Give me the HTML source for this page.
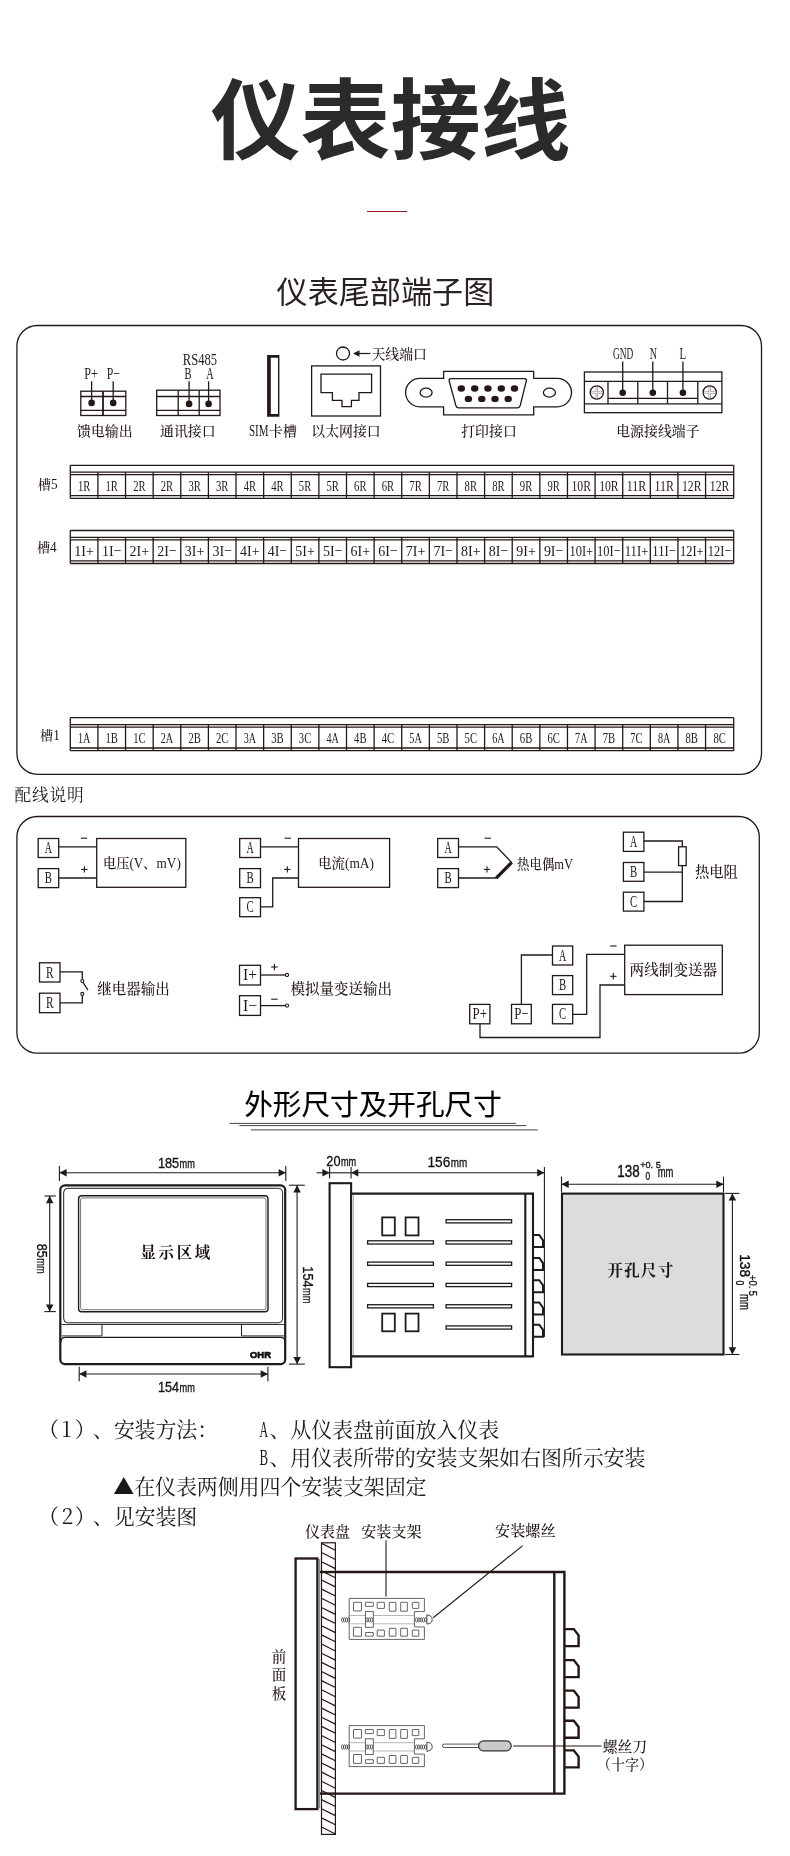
<!DOCTYPE html>
<html lang="zh-CN"><head><meta charset="utf-8"><title>仪表接线</title>
<style>
html,body{margin:0;padding:0;background:#fff}
body{width:790px;height:1856px;overflow:hidden;font-family:'Liberation Sans','Noto Sans CJK SC',sans-serif}
svg{display:block;will-change:transform;opacity:.999}
text{white-space:pre}
</style></head><body>
<svg width="790" height="1856" viewBox="0 0 790 1856">
<text x="390.5" y="0" font-family="'Noto Sans CJK SC','Liberation Sans',sans-serif" font-size="90" font-weight="700" text-anchor="middle" transform="translate(0 151.5) scale(1 0.977)" fill="#2b2b2b" >仪表接线</text>
<line x1="367" y1="211.5" x2="407" y2="211.5" stroke="#a3141c" stroke-width="1.1" />
<text x="385.4" y="303.2" font-family="'Noto Sans CJK SC','Liberation Sans',sans-serif" font-size="31.1" text-anchor="middle" fill="#2a2222" >仪表尾部端子图</text>
<rect x="16.9" y="325.5" width="744.6" height="448.8" rx="20.5" fill="none" stroke="#231815" stroke-width="1.3"/>
<rect x="80.8" y="391.2" width="45" height="24.3" fill="none" stroke="#231815" stroke-width="1.3"/>
<line x1="80.8" y1="396.5" x2="125.8" y2="396.5" stroke="#231815" stroke-width="1.3" />
<line x1="80.8" y1="410.4" x2="125.8" y2="410.4" stroke="#231815" stroke-width="1.3" />
<line x1="103" y1="391.2" x2="103" y2="415.5" stroke="#231815" stroke-width="1.8" />
<circle cx="91.6" cy="402.9" r="3.3" fill="#231815" stroke="none"/>
<line x1="91.6" y1="402.9" x2="91.6" y2="381.3" stroke="#231815" stroke-width="1.3" />
<circle cx="113.2" cy="402.9" r="3.3" fill="#231815" stroke="none"/>
<line x1="113.2" y1="402.9" x2="113.2" y2="381.3" stroke="#231815" stroke-width="1.3" />
<text x="84.3" y="378.8" font-family="'Liberation Serif','Noto Serif CJK SC',serif" font-size="16.3" font-weight="500" textLength="13.5" lengthAdjust="spacingAndGlyphs" fill="#231815" >P+</text>
<text x="106.8" y="378.8" font-family="'Liberation Serif','Noto Serif CJK SC',serif" font-size="16.3" font-weight="500" textLength="13.2" lengthAdjust="spacingAndGlyphs" fill="#231815" >P−</text>
<text x="104.8" y="436.1" font-family="'Noto Serif CJK SC','Liberation Serif',serif" font-size="13.9" font-weight="500" text-anchor="middle" fill="#231815" >馈电输出</text>
<rect x="156.7" y="390.2" width="63.3" height="25.3" fill="none" stroke="#231815" stroke-width="1.3"/>
<line x1="156.7" y1="396.5" x2="220" y2="396.5" stroke="#231815" stroke-width="1.3" />
<line x1="156.7" y1="410.4" x2="220" y2="410.4" stroke="#231815" stroke-width="1.3" />
<line x1="178.2" y1="390.2" x2="178.2" y2="415.5" stroke="#231815" stroke-width="1.3" />
<line x1="199.2" y1="390.2" x2="199.2" y2="415.5" stroke="#231815" stroke-width="1.3" />
<circle cx="189.1" cy="403.9" r="3.3" fill="#231815" stroke="none"/>
<line x1="189.1" y1="403.9" x2="189.1" y2="381.3" stroke="#231815" stroke-width="1.3" />
<circle cx="208.6" cy="403.9" r="3.3" fill="#231815" stroke="none"/>
<line x1="208.6" y1="403.9" x2="208.6" y2="381.3" stroke="#231815" stroke-width="1.3" />
<text x="182.8" y="365" font-family="'Liberation Serif','Noto Serif CJK SC',serif" font-size="16.8" font-weight="500" textLength="34.2" lengthAdjust="spacingAndGlyphs" fill="#231815" >RS485</text>
<text x="184.5" y="378.9" font-family="'Liberation Serif','Noto Serif CJK SC',serif" font-size="16.3" font-weight="500" textLength="7" lengthAdjust="spacingAndGlyphs" fill="#231815" >B</text>
<text x="206.3" y="378.9" font-family="'Liberation Serif','Noto Serif CJK SC',serif" font-size="16.3" font-weight="500" textLength="7.4" lengthAdjust="spacingAndGlyphs" fill="#231815" >A</text>
<text x="187.8" y="436.1" font-family="'Noto Serif CJK SC','Liberation Serif',serif" font-size="13.9" font-weight="500" text-anchor="middle" fill="#231815" >通讯接口</text>
<rect x="268.3" y="356.3" width="10.5" height="59.4" fill="none" stroke="#231815" stroke-width="0.01"/>
<path d="M267.1 355.1 H279.4 V416.7 H267.1 Z M270.8 357.8 V414.1 H278 V357.8 Z" fill="#231815" stroke="none" fill-rule="evenodd"/>
<text x="248.9" y="436.1" font-family="'Liberation Serif','Noto Serif CJK SC',serif" font-size="16.3" font-weight="500" textLength="19.6" lengthAdjust="spacingAndGlyphs" fill="#231815" >SIM</text>
<text x="269" y="436.1" font-family="'Noto Serif CJK SC','Liberation Serif',serif" font-size="13.9" font-weight="500" fill="#231815" >卡槽</text>
<rect x="311.6" y="365.9" width="68.9" height="50.1" fill="none" stroke="#231815" stroke-width="1.3"/>
<path d="M321 374.2 L371.6 374.2 L371.6 392.7 L359 392.7 L359 400.3 L351.4 400.3 L351.4 406.6 L342 406.6 L342 400.3 L332.4 400.3 L332.4 392.7 L321 392.7 Z" fill="none" stroke="#231815" stroke-width="1.3" />
<text x="346" y="436.1" font-family="'Noto Serif CJK SC','Liberation Serif',serif" font-size="13.9" font-weight="500" text-anchor="middle" fill="#231815" >以太网接口</text>
<circle cx="343" cy="353.5" r="6.5" fill="none" stroke="#231815" stroke-width="1.3"/>
<line x1="356" y1="353.5" x2="370.4" y2="353.5" stroke="#231815" stroke-width="1.2" />
<path d="M353 353.5 L359.5 350.2 L359.5 356.8 Z" fill="#231815" stroke="none" />
<text x="371.4" y="359" font-family="'Noto Serif CJK SC','Liberation Serif',serif" font-size="13.9" font-weight="500" fill="#231815" >天线端口</text>
<path d="M443.6 378.4 H419.8 A14.2 14.2 0 0 0 419.8 406.8 H443.6 V414.9 H533.7 V406.8 H557.3 A14.2 14.2 0 0 0 557.3 378.4 H533.7 V371.3 H443.6 Z" fill="none" stroke="#231815" stroke-width="1.3" />
<path d="M451 378.7 H524.4 Q526.9 378.7 526.3 381 L520.2 405.6 Q519.6 407.8 517.3 407.8 H458.7 Q456.4 407.8 455.9 405.6 L449.2 381 Q448.6 378.7 451 378.7 Z" fill="none" stroke="#231815" stroke-width="1.3" />
<ellipse cx="461.3" cy="388.5" rx="3.7" ry="3.2" fill="#231815" stroke="none"/>
<ellipse cx="474.7" cy="388.5" rx="3.7" ry="3.2" fill="#231815" stroke="none"/>
<ellipse cx="487.9" cy="388.5" rx="3.7" ry="3.2" fill="#231815" stroke="none"/>
<ellipse cx="501.3" cy="388.5" rx="3.7" ry="3.2" fill="#231815" stroke="none"/>
<ellipse cx="514.5" cy="388.5" rx="3.7" ry="3.2" fill="#231815" stroke="none"/>
<ellipse cx="468.4" cy="398.9" rx="3.7" ry="3.2" fill="#231815" stroke="none"/>
<ellipse cx="481.8" cy="398.9" rx="3.7" ry="3.2" fill="#231815" stroke="none"/>
<ellipse cx="495" cy="398.9" rx="3.7" ry="3.2" fill="#231815" stroke="none"/>
<ellipse cx="508.2" cy="398.9" rx="3.7" ry="3.2" fill="#231815" stroke="none"/>
<ellipse cx="426.1" cy="392.6" rx="6" ry="4.5" fill="none" stroke="#231815" stroke-width="1.3"/>
<ellipse cx="549.4" cy="392.6" rx="6" ry="4.5" fill="none" stroke="#231815" stroke-width="1.3"/>
<text x="489" y="436.1" font-family="'Noto Serif CJK SC','Liberation Serif',serif" font-size="13.9" font-weight="500" text-anchor="middle" fill="#231815" >打印接口</text>
<rect x="584.4" y="372" width="137.5" height="40.7" fill="none" stroke="#231815" stroke-width="1.3"/>
<line x1="584.4" y1="381.3" x2="721.9" y2="381.3" stroke="#231815" stroke-width="1.3" />
<line x1="584.4" y1="403.9" x2="721.9" y2="403.9" stroke="#231815" stroke-width="1.3" />
<line x1="608" y1="398.3" x2="697.8" y2="398.3" stroke="#231815" stroke-width="1.3" />
<line x1="608" y1="381.3" x2="608" y2="403.9" stroke="#231815" stroke-width="1.3" />
<line x1="637.8" y1="381.3" x2="637.8" y2="403.9" stroke="#231815" stroke-width="1.3" />
<line x1="667.5" y1="381.3" x2="667.5" y2="403.9" stroke="#231815" stroke-width="1.3" />
<line x1="697.8" y1="381.3" x2="697.8" y2="403.9" stroke="#231815" stroke-width="1.3" />
<circle cx="596.8" cy="392.5" r="6.6" fill="none" stroke="#231815" stroke-width="1.3"/>
<line x1="591.3" y1="392.5" x2="602.3" y2="392.5" stroke="#9a9492" stroke-width="2.2" />
<line x1="596.8" y1="387" x2="596.8" y2="398" stroke="#9a9492" stroke-width="2.2" />
<line x1="591.3" y1="392.5" x2="602.3" y2="392.5" stroke="#fff" stroke-width="0.8" />
<line x1="596.8" y1="387" x2="596.8" y2="398" stroke="#fff" stroke-width="0.8" />
<circle cx="709.7" cy="392.5" r="6.6" fill="none" stroke="#231815" stroke-width="1.3"/>
<line x1="704.2" y1="392.5" x2="715.2" y2="392.5" stroke="#9a9492" stroke-width="2.2" />
<line x1="709.7" y1="387" x2="709.7" y2="398" stroke="#9a9492" stroke-width="2.2" />
<line x1="704.2" y1="392.5" x2="715.2" y2="392.5" stroke="#fff" stroke-width="0.8" />
<line x1="709.7" y1="387" x2="709.7" y2="398" stroke="#fff" stroke-width="0.8" />
<circle cx="622.7" cy="392.7" r="3.3" fill="#231815" stroke="none"/>
<line x1="622.7" y1="392.7" x2="622.7" y2="361.6" stroke="#231815" stroke-width="1.3" />
<circle cx="652.8" cy="392.7" r="3.3" fill="#231815" stroke="none"/>
<line x1="652.8" y1="392.7" x2="652.8" y2="361.6" stroke="#231815" stroke-width="1.3" />
<circle cx="682.9" cy="392.7" r="3.3" fill="#231815" stroke="none"/>
<line x1="682.9" y1="392.7" x2="682.9" y2="361.6" stroke="#231815" stroke-width="1.3" />
<text x="613" y="359.3" font-family="'Liberation Serif','Noto Serif CJK SC',serif" font-size="16.3" font-weight="500" textLength="20.3" lengthAdjust="spacingAndGlyphs" fill="#231815" >GND</text>
<text x="649.7" y="359.3" font-family="'Liberation Serif','Noto Serif CJK SC',serif" font-size="16.3" font-weight="500" textLength="7.2" lengthAdjust="spacingAndGlyphs" fill="#231815" >N</text>
<text x="679.4" y="359.3" font-family="'Liberation Serif','Noto Serif CJK SC',serif" font-size="16.3" font-weight="500" textLength="6.6" lengthAdjust="spacingAndGlyphs" fill="#231815" >L</text>
<text x="657.9" y="436.1" font-family="'Noto Serif CJK SC','Liberation Serif',serif" font-size="13.9" font-weight="500" text-anchor="middle" fill="#231815" >电源接线端子</text>
<line x1="70.3" y1="465.3" x2="733.7" y2="465.3" stroke="#231815" stroke-width="1.3" />
<line x1="70.3" y1="472.2" x2="733.7" y2="472.2" stroke="#231815" stroke-width="1.3" />
<line x1="70.3" y1="474.7" x2="733.7" y2="474.7" stroke="#231815" stroke-width="1.3" />
<line x1="70.3" y1="495.6" x2="733.7" y2="495.6" stroke="#231815" stroke-width="1.3" />
<line x1="70.3" y1="498.3" x2="733.7" y2="498.3" stroke="#231815" stroke-width="1.3" />
<line x1="70.3" y1="465.3" x2="70.3" y2="498.3" stroke="#231815" stroke-width="1.3" />
<line x1="733.7" y1="465.3" x2="733.7" y2="498.3" stroke="#231815" stroke-width="1.3" />
<line x1="97.92" y1="472.2" x2="97.92" y2="498.3" stroke="#231815" stroke-width="1.3" />
<line x1="125.54" y1="472.2" x2="125.54" y2="498.3" stroke="#231815" stroke-width="1.3" />
<line x1="153.16" y1="472.2" x2="153.16" y2="498.3" stroke="#231815" stroke-width="1.3" />
<line x1="180.78" y1="472.2" x2="180.78" y2="498.3" stroke="#231815" stroke-width="1.3" />
<line x1="208.4" y1="472.2" x2="208.4" y2="498.3" stroke="#231815" stroke-width="1.3" />
<line x1="236.02" y1="472.2" x2="236.02" y2="498.3" stroke="#231815" stroke-width="1.3" />
<line x1="263.64" y1="472.2" x2="263.64" y2="498.3" stroke="#231815" stroke-width="1.3" />
<line x1="291.26" y1="472.2" x2="291.26" y2="498.3" stroke="#231815" stroke-width="1.3" />
<line x1="318.88" y1="472.2" x2="318.88" y2="498.3" stroke="#231815" stroke-width="1.3" />
<line x1="346.5" y1="472.2" x2="346.5" y2="498.3" stroke="#231815" stroke-width="1.3" />
<line x1="374.12" y1="472.2" x2="374.12" y2="498.3" stroke="#231815" stroke-width="1.3" />
<line x1="401.74" y1="472.2" x2="401.74" y2="498.3" stroke="#231815" stroke-width="1.3" />
<line x1="429.36" y1="472.2" x2="429.36" y2="498.3" stroke="#231815" stroke-width="1.3" />
<line x1="456.98" y1="472.2" x2="456.98" y2="498.3" stroke="#231815" stroke-width="1.3" />
<line x1="484.6" y1="472.2" x2="484.6" y2="498.3" stroke="#231815" stroke-width="1.3" />
<line x1="512.22" y1="472.2" x2="512.22" y2="498.3" stroke="#231815" stroke-width="1.3" />
<line x1="539.84" y1="472.2" x2="539.84" y2="498.3" stroke="#231815" stroke-width="1.3" />
<line x1="567.46" y1="472.2" x2="567.46" y2="498.3" stroke="#231815" stroke-width="1.3" />
<line x1="595.08" y1="472.2" x2="595.08" y2="498.3" stroke="#231815" stroke-width="1.3" />
<line x1="622.7" y1="472.2" x2="622.7" y2="498.3" stroke="#231815" stroke-width="1.3" />
<line x1="650.32" y1="472.2" x2="650.32" y2="498.3" stroke="#231815" stroke-width="1.3" />
<line x1="677.94" y1="472.2" x2="677.94" y2="498.3" stroke="#231815" stroke-width="1.3" />
<line x1="705.56" y1="472.2" x2="705.56" y2="498.3" stroke="#231815" stroke-width="1.3" />
<text x="77.91" y="490.9" font-family="'Liberation Serif','Noto Serif CJK SC',serif" font-size="15.6" font-weight="500" textLength="12.4" lengthAdjust="spacingAndGlyphs" fill="#231815" >1R</text>
<text x="105.53" y="490.9" font-family="'Liberation Serif','Noto Serif CJK SC',serif" font-size="15.6" font-weight="500" textLength="12.4" lengthAdjust="spacingAndGlyphs" fill="#231815" >1R</text>
<text x="133.15" y="490.9" font-family="'Liberation Serif','Noto Serif CJK SC',serif" font-size="15.6" font-weight="500" textLength="12.4" lengthAdjust="spacingAndGlyphs" fill="#231815" >2R</text>
<text x="160.77" y="490.9" font-family="'Liberation Serif','Noto Serif CJK SC',serif" font-size="15.6" font-weight="500" textLength="12.4" lengthAdjust="spacingAndGlyphs" fill="#231815" >2R</text>
<text x="188.39" y="490.9" font-family="'Liberation Serif','Noto Serif CJK SC',serif" font-size="15.6" font-weight="500" textLength="12.4" lengthAdjust="spacingAndGlyphs" fill="#231815" >3R</text>
<text x="216.01" y="490.9" font-family="'Liberation Serif','Noto Serif CJK SC',serif" font-size="15.6" font-weight="500" textLength="12.4" lengthAdjust="spacingAndGlyphs" fill="#231815" >3R</text>
<text x="243.63" y="490.9" font-family="'Liberation Serif','Noto Serif CJK SC',serif" font-size="15.6" font-weight="500" textLength="12.4" lengthAdjust="spacingAndGlyphs" fill="#231815" >4R</text>
<text x="271.25" y="490.9" font-family="'Liberation Serif','Noto Serif CJK SC',serif" font-size="15.6" font-weight="500" textLength="12.4" lengthAdjust="spacingAndGlyphs" fill="#231815" >4R</text>
<text x="298.87" y="490.9" font-family="'Liberation Serif','Noto Serif CJK SC',serif" font-size="15.6" font-weight="500" textLength="12.4" lengthAdjust="spacingAndGlyphs" fill="#231815" >5R</text>
<text x="326.49" y="490.9" font-family="'Liberation Serif','Noto Serif CJK SC',serif" font-size="15.6" font-weight="500" textLength="12.4" lengthAdjust="spacingAndGlyphs" fill="#231815" >5R</text>
<text x="354.11" y="490.9" font-family="'Liberation Serif','Noto Serif CJK SC',serif" font-size="15.6" font-weight="500" textLength="12.4" lengthAdjust="spacingAndGlyphs" fill="#231815" >6R</text>
<text x="381.73" y="490.9" font-family="'Liberation Serif','Noto Serif CJK SC',serif" font-size="15.6" font-weight="500" textLength="12.4" lengthAdjust="spacingAndGlyphs" fill="#231815" >6R</text>
<text x="409.35" y="490.9" font-family="'Liberation Serif','Noto Serif CJK SC',serif" font-size="15.6" font-weight="500" textLength="12.4" lengthAdjust="spacingAndGlyphs" fill="#231815" >7R</text>
<text x="436.97" y="490.9" font-family="'Liberation Serif','Noto Serif CJK SC',serif" font-size="15.6" font-weight="500" textLength="12.4" lengthAdjust="spacingAndGlyphs" fill="#231815" >7R</text>
<text x="464.59" y="490.9" font-family="'Liberation Serif','Noto Serif CJK SC',serif" font-size="15.6" font-weight="500" textLength="12.4" lengthAdjust="spacingAndGlyphs" fill="#231815" >8R</text>
<text x="492.21" y="490.9" font-family="'Liberation Serif','Noto Serif CJK SC',serif" font-size="15.6" font-weight="500" textLength="12.4" lengthAdjust="spacingAndGlyphs" fill="#231815" >8R</text>
<text x="519.83" y="490.9" font-family="'Liberation Serif','Noto Serif CJK SC',serif" font-size="15.6" font-weight="500" textLength="12.4" lengthAdjust="spacingAndGlyphs" fill="#231815" >9R</text>
<text x="547.45" y="490.9" font-family="'Liberation Serif','Noto Serif CJK SC',serif" font-size="15.6" font-weight="500" textLength="12.4" lengthAdjust="spacingAndGlyphs" fill="#231815" >9R</text>
<text x="571.52" y="490.9" font-family="'Liberation Serif','Noto Serif CJK SC',serif" font-size="15.6" font-weight="500" textLength="19.5" lengthAdjust="spacingAndGlyphs" fill="#231815" >10R</text>
<text x="599.14" y="490.9" font-family="'Liberation Serif','Noto Serif CJK SC',serif" font-size="15.6" font-weight="500" textLength="19.5" lengthAdjust="spacingAndGlyphs" fill="#231815" >10R</text>
<text x="626.76" y="490.9" font-family="'Liberation Serif','Noto Serif CJK SC',serif" font-size="15.6" font-weight="500" textLength="19.5" lengthAdjust="spacingAndGlyphs" fill="#231815" >11R</text>
<text x="654.38" y="490.9" font-family="'Liberation Serif','Noto Serif CJK SC',serif" font-size="15.6" font-weight="500" textLength="19.5" lengthAdjust="spacingAndGlyphs" fill="#231815" >11R</text>
<text x="682" y="490.9" font-family="'Liberation Serif','Noto Serif CJK SC',serif" font-size="15.6" font-weight="500" textLength="19.5" lengthAdjust="spacingAndGlyphs" fill="#231815" >12R</text>
<text x="709.87" y="490.9" font-family="'Liberation Serif','Noto Serif CJK SC',serif" font-size="15.6" font-weight="500" textLength="19.5" lengthAdjust="spacingAndGlyphs" fill="#231815" >12R</text>
<text x="38" y="488.8" font-family="'Noto Serif CJK SC','Liberation Serif',serif" font-size="12.8" font-weight="500" fill="#231815" >槽</text>
<text x="50.9" y="489" font-family="'Liberation Serif','Noto Serif CJK SC',serif" font-size="15" font-weight="500" textLength="6.6" lengthAdjust="spacingAndGlyphs" fill="#231815" >5</text>
<line x1="70.3" y1="530.5" x2="733.7" y2="530.5" stroke="#231815" stroke-width="1.3" />
<line x1="70.3" y1="537.4" x2="733.7" y2="537.4" stroke="#231815" stroke-width="1.3" />
<line x1="70.3" y1="539.9" x2="733.7" y2="539.9" stroke="#231815" stroke-width="1.3" />
<line x1="70.3" y1="560.8" x2="733.7" y2="560.8" stroke="#231815" stroke-width="1.3" />
<line x1="70.3" y1="563.5" x2="733.7" y2="563.5" stroke="#231815" stroke-width="1.3" />
<line x1="70.3" y1="530.5" x2="70.3" y2="563.5" stroke="#231815" stroke-width="1.3" />
<line x1="733.7" y1="530.5" x2="733.7" y2="563.5" stroke="#231815" stroke-width="1.3" />
<line x1="97.92" y1="537.4" x2="97.92" y2="563.5" stroke="#231815" stroke-width="1.3" />
<line x1="125.54" y1="537.4" x2="125.54" y2="563.5" stroke="#231815" stroke-width="1.3" />
<line x1="153.16" y1="537.4" x2="153.16" y2="563.5" stroke="#231815" stroke-width="1.3" />
<line x1="180.78" y1="537.4" x2="180.78" y2="563.5" stroke="#231815" stroke-width="1.3" />
<line x1="208.4" y1="537.4" x2="208.4" y2="563.5" stroke="#231815" stroke-width="1.3" />
<line x1="236.02" y1="537.4" x2="236.02" y2="563.5" stroke="#231815" stroke-width="1.3" />
<line x1="263.64" y1="537.4" x2="263.64" y2="563.5" stroke="#231815" stroke-width="1.3" />
<line x1="291.26" y1="537.4" x2="291.26" y2="563.5" stroke="#231815" stroke-width="1.3" />
<line x1="318.88" y1="537.4" x2="318.88" y2="563.5" stroke="#231815" stroke-width="1.3" />
<line x1="346.5" y1="537.4" x2="346.5" y2="563.5" stroke="#231815" stroke-width="1.3" />
<line x1="374.12" y1="537.4" x2="374.12" y2="563.5" stroke="#231815" stroke-width="1.3" />
<line x1="401.74" y1="537.4" x2="401.74" y2="563.5" stroke="#231815" stroke-width="1.3" />
<line x1="429.36" y1="537.4" x2="429.36" y2="563.5" stroke="#231815" stroke-width="1.3" />
<line x1="456.98" y1="537.4" x2="456.98" y2="563.5" stroke="#231815" stroke-width="1.3" />
<line x1="484.6" y1="537.4" x2="484.6" y2="563.5" stroke="#231815" stroke-width="1.3" />
<line x1="512.22" y1="537.4" x2="512.22" y2="563.5" stroke="#231815" stroke-width="1.3" />
<line x1="539.84" y1="537.4" x2="539.84" y2="563.5" stroke="#231815" stroke-width="1.3" />
<line x1="567.46" y1="537.4" x2="567.46" y2="563.5" stroke="#231815" stroke-width="1.3" />
<line x1="595.08" y1="537.4" x2="595.08" y2="563.5" stroke="#231815" stroke-width="1.3" />
<line x1="622.7" y1="537.4" x2="622.7" y2="563.5" stroke="#231815" stroke-width="1.3" />
<line x1="650.32" y1="537.4" x2="650.32" y2="563.5" stroke="#231815" stroke-width="1.3" />
<line x1="677.94" y1="537.4" x2="677.94" y2="563.5" stroke="#231815" stroke-width="1.3" />
<line x1="705.56" y1="537.4" x2="705.56" y2="563.5" stroke="#231815" stroke-width="1.3" />
<text x="74.36" y="556.1" font-family="'Liberation Serif','Noto Serif CJK SC',serif" font-size="15.6" font-weight="500" textLength="19.5" lengthAdjust="spacingAndGlyphs" fill="#231815" >1I+</text>
<text x="101.98" y="556.1" font-family="'Liberation Serif','Noto Serif CJK SC',serif" font-size="15.6" font-weight="500" textLength="19.5" lengthAdjust="spacingAndGlyphs" fill="#231815" >1I−</text>
<text x="129.6" y="556.1" font-family="'Liberation Serif','Noto Serif CJK SC',serif" font-size="15.6" font-weight="500" textLength="19.5" lengthAdjust="spacingAndGlyphs" fill="#231815" >2I+</text>
<text x="157.22" y="556.1" font-family="'Liberation Serif','Noto Serif CJK SC',serif" font-size="15.6" font-weight="500" textLength="19.5" lengthAdjust="spacingAndGlyphs" fill="#231815" >2I−</text>
<text x="184.84" y="556.1" font-family="'Liberation Serif','Noto Serif CJK SC',serif" font-size="15.6" font-weight="500" textLength="19.5" lengthAdjust="spacingAndGlyphs" fill="#231815" >3I+</text>
<text x="212.46" y="556.1" font-family="'Liberation Serif','Noto Serif CJK SC',serif" font-size="15.6" font-weight="500" textLength="19.5" lengthAdjust="spacingAndGlyphs" fill="#231815" >3I−</text>
<text x="240.08" y="556.1" font-family="'Liberation Serif','Noto Serif CJK SC',serif" font-size="15.6" font-weight="500" textLength="19.5" lengthAdjust="spacingAndGlyphs" fill="#231815" >4I+</text>
<text x="267.7" y="556.1" font-family="'Liberation Serif','Noto Serif CJK SC',serif" font-size="15.6" font-weight="500" textLength="19.5" lengthAdjust="spacingAndGlyphs" fill="#231815" >4I−</text>
<text x="295.32" y="556.1" font-family="'Liberation Serif','Noto Serif CJK SC',serif" font-size="15.6" font-weight="500" textLength="19.5" lengthAdjust="spacingAndGlyphs" fill="#231815" >5I+</text>
<text x="322.94" y="556.1" font-family="'Liberation Serif','Noto Serif CJK SC',serif" font-size="15.6" font-weight="500" textLength="19.5" lengthAdjust="spacingAndGlyphs" fill="#231815" >5I−</text>
<text x="350.56" y="556.1" font-family="'Liberation Serif','Noto Serif CJK SC',serif" font-size="15.6" font-weight="500" textLength="19.5" lengthAdjust="spacingAndGlyphs" fill="#231815" >6I+</text>
<text x="378.18" y="556.1" font-family="'Liberation Serif','Noto Serif CJK SC',serif" font-size="15.6" font-weight="500" textLength="19.5" lengthAdjust="spacingAndGlyphs" fill="#231815" >6I−</text>
<text x="405.8" y="556.1" font-family="'Liberation Serif','Noto Serif CJK SC',serif" font-size="15.6" font-weight="500" textLength="19.5" lengthAdjust="spacingAndGlyphs" fill="#231815" >7I+</text>
<text x="433.42" y="556.1" font-family="'Liberation Serif','Noto Serif CJK SC',serif" font-size="15.6" font-weight="500" textLength="19.5" lengthAdjust="spacingAndGlyphs" fill="#231815" >7I−</text>
<text x="461.04" y="556.1" font-family="'Liberation Serif','Noto Serif CJK SC',serif" font-size="15.6" font-weight="500" textLength="19.5" lengthAdjust="spacingAndGlyphs" fill="#231815" >8I+</text>
<text x="488.66" y="556.1" font-family="'Liberation Serif','Noto Serif CJK SC',serif" font-size="15.6" font-weight="500" textLength="19.5" lengthAdjust="spacingAndGlyphs" fill="#231815" >8I−</text>
<text x="516.28" y="556.1" font-family="'Liberation Serif','Noto Serif CJK SC',serif" font-size="15.6" font-weight="500" textLength="19.5" lengthAdjust="spacingAndGlyphs" fill="#231815" >9I+</text>
<text x="543.9" y="556.1" font-family="'Liberation Serif','Noto Serif CJK SC',serif" font-size="15.6" font-weight="500" textLength="19.5" lengthAdjust="spacingAndGlyphs" fill="#231815" >9I−</text>
<text x="569.47" y="556.1" font-family="'Liberation Serif','Noto Serif CJK SC',serif" font-size="15.6" font-weight="500" textLength="23.6" lengthAdjust="spacingAndGlyphs" fill="#231815" >10I+</text>
<text x="597.09" y="556.1" font-family="'Liberation Serif','Noto Serif CJK SC',serif" font-size="15.6" font-weight="500" textLength="23.6" lengthAdjust="spacingAndGlyphs" fill="#231815" >10I−</text>
<text x="624.71" y="556.1" font-family="'Liberation Serif','Noto Serif CJK SC',serif" font-size="15.6" font-weight="500" textLength="23.6" lengthAdjust="spacingAndGlyphs" fill="#231815" >11I+</text>
<text x="652.33" y="556.1" font-family="'Liberation Serif','Noto Serif CJK SC',serif" font-size="15.6" font-weight="500" textLength="23.6" lengthAdjust="spacingAndGlyphs" fill="#231815" >11I−</text>
<text x="679.95" y="556.1" font-family="'Liberation Serif','Noto Serif CJK SC',serif" font-size="15.6" font-weight="500" textLength="23.6" lengthAdjust="spacingAndGlyphs" fill="#231815" >12I+</text>
<text x="707.82" y="556.1" font-family="'Liberation Serif','Noto Serif CJK SC',serif" font-size="15.6" font-weight="500" textLength="23.6" lengthAdjust="spacingAndGlyphs" fill="#231815" >12I−</text>
<text x="37.2" y="551.9" font-family="'Noto Serif CJK SC','Liberation Serif',serif" font-size="12.8" font-weight="500" fill="#231815" >槽</text>
<text x="50.1" y="552.1" font-family="'Liberation Serif','Noto Serif CJK SC',serif" font-size="15" font-weight="500" textLength="6.6" lengthAdjust="spacingAndGlyphs" fill="#231815" >4</text>
<line x1="70.3" y1="717.7" x2="733.7" y2="717.7" stroke="#231815" stroke-width="1.3" />
<line x1="70.3" y1="724.6" x2="733.7" y2="724.6" stroke="#231815" stroke-width="1.3" />
<line x1="70.3" y1="727.1" x2="733.7" y2="727.1" stroke="#231815" stroke-width="1.3" />
<line x1="70.3" y1="748" x2="733.7" y2="748" stroke="#231815" stroke-width="1.3" />
<line x1="70.3" y1="750.7" x2="733.7" y2="750.7" stroke="#231815" stroke-width="1.3" />
<line x1="70.3" y1="717.7" x2="70.3" y2="750.7" stroke="#231815" stroke-width="1.3" />
<line x1="733.7" y1="717.7" x2="733.7" y2="750.7" stroke="#231815" stroke-width="1.3" />
<line x1="97.92" y1="724.6" x2="97.92" y2="750.7" stroke="#231815" stroke-width="1.3" />
<line x1="125.54" y1="724.6" x2="125.54" y2="750.7" stroke="#231815" stroke-width="1.3" />
<line x1="153.16" y1="724.6" x2="153.16" y2="750.7" stroke="#231815" stroke-width="1.3" />
<line x1="180.78" y1="724.6" x2="180.78" y2="750.7" stroke="#231815" stroke-width="1.3" />
<line x1="208.4" y1="724.6" x2="208.4" y2="750.7" stroke="#231815" stroke-width="1.3" />
<line x1="236.02" y1="724.6" x2="236.02" y2="750.7" stroke="#231815" stroke-width="1.3" />
<line x1="263.64" y1="724.6" x2="263.64" y2="750.7" stroke="#231815" stroke-width="1.3" />
<line x1="291.26" y1="724.6" x2="291.26" y2="750.7" stroke="#231815" stroke-width="1.3" />
<line x1="318.88" y1="724.6" x2="318.88" y2="750.7" stroke="#231815" stroke-width="1.3" />
<line x1="346.5" y1="724.6" x2="346.5" y2="750.7" stroke="#231815" stroke-width="1.3" />
<line x1="374.12" y1="724.6" x2="374.12" y2="750.7" stroke="#231815" stroke-width="1.3" />
<line x1="401.74" y1="724.6" x2="401.74" y2="750.7" stroke="#231815" stroke-width="1.3" />
<line x1="429.36" y1="724.6" x2="429.36" y2="750.7" stroke="#231815" stroke-width="1.3" />
<line x1="456.98" y1="724.6" x2="456.98" y2="750.7" stroke="#231815" stroke-width="1.3" />
<line x1="484.6" y1="724.6" x2="484.6" y2="750.7" stroke="#231815" stroke-width="1.3" />
<line x1="512.22" y1="724.6" x2="512.22" y2="750.7" stroke="#231815" stroke-width="1.3" />
<line x1="539.84" y1="724.6" x2="539.84" y2="750.7" stroke="#231815" stroke-width="1.3" />
<line x1="567.46" y1="724.6" x2="567.46" y2="750.7" stroke="#231815" stroke-width="1.3" />
<line x1="595.08" y1="724.6" x2="595.08" y2="750.7" stroke="#231815" stroke-width="1.3" />
<line x1="622.7" y1="724.6" x2="622.7" y2="750.7" stroke="#231815" stroke-width="1.3" />
<line x1="650.32" y1="724.6" x2="650.32" y2="750.7" stroke="#231815" stroke-width="1.3" />
<line x1="677.94" y1="724.6" x2="677.94" y2="750.7" stroke="#231815" stroke-width="1.3" />
<line x1="705.56" y1="724.6" x2="705.56" y2="750.7" stroke="#231815" stroke-width="1.3" />
<text x="77.91" y="743.3" font-family="'Liberation Serif','Noto Serif CJK SC',serif" font-size="15.6" font-weight="500" textLength="12.4" lengthAdjust="spacingAndGlyphs" fill="#231815" >1A</text>
<text x="105.53" y="743.3" font-family="'Liberation Serif','Noto Serif CJK SC',serif" font-size="15.6" font-weight="500" textLength="12.4" lengthAdjust="spacingAndGlyphs" fill="#231815" >1B</text>
<text x="133.15" y="743.3" font-family="'Liberation Serif','Noto Serif CJK SC',serif" font-size="15.6" font-weight="500" textLength="12.4" lengthAdjust="spacingAndGlyphs" fill="#231815" >1C</text>
<text x="160.77" y="743.3" font-family="'Liberation Serif','Noto Serif CJK SC',serif" font-size="15.6" font-weight="500" textLength="12.4" lengthAdjust="spacingAndGlyphs" fill="#231815" >2A</text>
<text x="188.39" y="743.3" font-family="'Liberation Serif','Noto Serif CJK SC',serif" font-size="15.6" font-weight="500" textLength="12.4" lengthAdjust="spacingAndGlyphs" fill="#231815" >2B</text>
<text x="216.01" y="743.3" font-family="'Liberation Serif','Noto Serif CJK SC',serif" font-size="15.6" font-weight="500" textLength="12.4" lengthAdjust="spacingAndGlyphs" fill="#231815" >2C</text>
<text x="243.63" y="743.3" font-family="'Liberation Serif','Noto Serif CJK SC',serif" font-size="15.6" font-weight="500" textLength="12.4" lengthAdjust="spacingAndGlyphs" fill="#231815" >3A</text>
<text x="271.25" y="743.3" font-family="'Liberation Serif','Noto Serif CJK SC',serif" font-size="15.6" font-weight="500" textLength="12.4" lengthAdjust="spacingAndGlyphs" fill="#231815" >3B</text>
<text x="298.87" y="743.3" font-family="'Liberation Serif','Noto Serif CJK SC',serif" font-size="15.6" font-weight="500" textLength="12.4" lengthAdjust="spacingAndGlyphs" fill="#231815" >3C</text>
<text x="326.49" y="743.3" font-family="'Liberation Serif','Noto Serif CJK SC',serif" font-size="15.6" font-weight="500" textLength="12.4" lengthAdjust="spacingAndGlyphs" fill="#231815" >4A</text>
<text x="354.11" y="743.3" font-family="'Liberation Serif','Noto Serif CJK SC',serif" font-size="15.6" font-weight="500" textLength="12.4" lengthAdjust="spacingAndGlyphs" fill="#231815" >4B</text>
<text x="381.73" y="743.3" font-family="'Liberation Serif','Noto Serif CJK SC',serif" font-size="15.6" font-weight="500" textLength="12.4" lengthAdjust="spacingAndGlyphs" fill="#231815" >4C</text>
<text x="409.35" y="743.3" font-family="'Liberation Serif','Noto Serif CJK SC',serif" font-size="15.6" font-weight="500" textLength="12.4" lengthAdjust="spacingAndGlyphs" fill="#231815" >5A</text>
<text x="436.97" y="743.3" font-family="'Liberation Serif','Noto Serif CJK SC',serif" font-size="15.6" font-weight="500" textLength="12.4" lengthAdjust="spacingAndGlyphs" fill="#231815" >5B</text>
<text x="464.59" y="743.3" font-family="'Liberation Serif','Noto Serif CJK SC',serif" font-size="15.6" font-weight="500" textLength="12.4" lengthAdjust="spacingAndGlyphs" fill="#231815" >5C</text>
<text x="492.21" y="743.3" font-family="'Liberation Serif','Noto Serif CJK SC',serif" font-size="15.6" font-weight="500" textLength="12.4" lengthAdjust="spacingAndGlyphs" fill="#231815" >6A</text>
<text x="519.83" y="743.3" font-family="'Liberation Serif','Noto Serif CJK SC',serif" font-size="15.6" font-weight="500" textLength="12.4" lengthAdjust="spacingAndGlyphs" fill="#231815" >6B</text>
<text x="547.45" y="743.3" font-family="'Liberation Serif','Noto Serif CJK SC',serif" font-size="15.6" font-weight="500" textLength="12.4" lengthAdjust="spacingAndGlyphs" fill="#231815" >6C</text>
<text x="575.07" y="743.3" font-family="'Liberation Serif','Noto Serif CJK SC',serif" font-size="15.6" font-weight="500" textLength="12.4" lengthAdjust="spacingAndGlyphs" fill="#231815" >7A</text>
<text x="602.69" y="743.3" font-family="'Liberation Serif','Noto Serif CJK SC',serif" font-size="15.6" font-weight="500" textLength="12.4" lengthAdjust="spacingAndGlyphs" fill="#231815" >7B</text>
<text x="630.31" y="743.3" font-family="'Liberation Serif','Noto Serif CJK SC',serif" font-size="15.6" font-weight="500" textLength="12.4" lengthAdjust="spacingAndGlyphs" fill="#231815" >7C</text>
<text x="657.93" y="743.3" font-family="'Liberation Serif','Noto Serif CJK SC',serif" font-size="15.6" font-weight="500" textLength="12.4" lengthAdjust="spacingAndGlyphs" fill="#231815" >8A</text>
<text x="685.55" y="743.3" font-family="'Liberation Serif','Noto Serif CJK SC',serif" font-size="15.6" font-weight="500" textLength="12.4" lengthAdjust="spacingAndGlyphs" fill="#231815" >8B</text>
<text x="713.42" y="743.3" font-family="'Liberation Serif','Noto Serif CJK SC',serif" font-size="15.6" font-weight="500" textLength="12.4" lengthAdjust="spacingAndGlyphs" fill="#231815" >8C</text>
<text x="40.3" y="739.5" font-family="'Noto Serif CJK SC','Liberation Serif',serif" font-size="12.8" font-weight="500" fill="#231815" >槽</text>
<text x="53.2" y="739.7" font-family="'Liberation Serif','Noto Serif CJK SC',serif" font-size="15" font-weight="500" textLength="6.6" lengthAdjust="spacingAndGlyphs" fill="#231815" >1</text>
<text x="14.6" y="800.6" font-family="'Noto Serif CJK SC','Liberation Serif',serif" font-size="16.7" letter-spacing="0.75" fill="#222" >配线说明</text>
<rect x="16.9" y="816.5" width="742.4" height="236.7" rx="20.5" fill="none" stroke="#231815" stroke-width="1.3"/>
<rect x="38.2" y="838.5" width="20.5" height="19" fill="none" stroke="#231815" stroke-width="1.3"/>
<text x="44.85" y="853.2" font-family="'Liberation Serif','Noto Serif CJK SC',serif" font-size="16.3" font-weight="500" textLength="7.2" lengthAdjust="spacingAndGlyphs" fill="#231815" >A</text>
<rect x="38.2" y="868.6" width="20.5" height="19" fill="none" stroke="#231815" stroke-width="1.3"/>
<text x="44.85" y="883.3" font-family="'Liberation Serif','Noto Serif CJK SC',serif" font-size="16.3" font-weight="500" textLength="7.2" lengthAdjust="spacingAndGlyphs" fill="#231815" >B</text>
<line x1="58.7" y1="846.8" x2="96.7" y2="846.8" stroke="#231815" stroke-width="1.3" />
<line x1="58.7" y1="878" x2="96.7" y2="878" stroke="#231815" stroke-width="1.3" />
<rect x="96.7" y="838.5" width="89.1" height="48.8" fill="none" stroke="#231815" stroke-width="1.3"/>
<line x1="80.8" y1="838.2" x2="87.2" y2="838.2" stroke="#231815" stroke-width="1.1" />
<line x1="81.2" y1="869.4" x2="87.6" y2="869.4" stroke="#231815" stroke-width="1.1" />
<line x1="84.4" y1="866.2" x2="84.4" y2="872.6" stroke="#231815" stroke-width="1.1" />
<text x="103" y="868" font-family="'Liberation Serif','Noto Serif CJK SC',serif" font-size="14.2" font-weight="500" textLength="77.8" lengthAdjust="spacingAndGlyphs" fill="#231815" >电压(V、mV)</text>
<rect x="239.7" y="838.5" width="20.8" height="19" fill="none" stroke="#231815" stroke-width="1.3"/>
<text x="246.5" y="853.2" font-family="'Liberation Serif','Noto Serif CJK SC',serif" font-size="16.3" font-weight="500" textLength="7.2" lengthAdjust="spacingAndGlyphs" fill="#231815" >A</text>
<rect x="239.7" y="868.6" width="20.8" height="19" fill="none" stroke="#231815" stroke-width="1.3"/>
<text x="246.5" y="883.3" font-family="'Liberation Serif','Noto Serif CJK SC',serif" font-size="16.3" font-weight="500" textLength="7.2" lengthAdjust="spacingAndGlyphs" fill="#231815" >B</text>
<rect x="239.7" y="897.7" width="20.8" height="19" fill="none" stroke="#231815" stroke-width="1.3"/>
<text x="246.5" y="912.4" font-family="'Liberation Serif','Noto Serif CJK SC',serif" font-size="16.3" font-weight="500" textLength="7.2" lengthAdjust="spacingAndGlyphs" fill="#231815" >C</text>
<line x1="260.5" y1="846.8" x2="298.5" y2="846.8" stroke="#231815" stroke-width="1.3" />
<path d="M260.5 906.8 L272.7 906.8 L272.7 878 L298.5 878" fill="none" stroke="#231815" stroke-width="1.3" />
<rect x="298.5" y="838.5" width="91.1" height="48.8" fill="none" stroke="#231815" stroke-width="1.3"/>
<line x1="284.5" y1="838.2" x2="290.9" y2="838.2" stroke="#231815" stroke-width="1.1" />
<line x1="284.1" y1="869.4" x2="290.5" y2="869.4" stroke="#231815" stroke-width="1.1" />
<line x1="287.3" y1="866.2" x2="287.3" y2="872.6" stroke="#231815" stroke-width="1.1" />
<text x="318.2" y="868" font-family="'Liberation Serif','Noto Serif CJK SC',serif" font-size="14.2" font-weight="500" textLength="55.8" lengthAdjust="spacingAndGlyphs" fill="#231815" >电流(mA)</text>
<rect x="437.7" y="838.5" width="20.8" height="19" fill="none" stroke="#231815" stroke-width="1.3"/>
<text x="444.5" y="853.2" font-family="'Liberation Serif','Noto Serif CJK SC',serif" font-size="16.3" font-weight="500" textLength="7.2" lengthAdjust="spacingAndGlyphs" fill="#231815" >A</text>
<rect x="437.7" y="868.6" width="20.8" height="19" fill="none" stroke="#231815" stroke-width="1.3"/>
<text x="444.5" y="883.3" font-family="'Liberation Serif','Noto Serif CJK SC',serif" font-size="16.3" font-weight="500" textLength="7.2" lengthAdjust="spacingAndGlyphs" fill="#231815" >B</text>
<path d="M458.5 846.8 L496.7 846.8 L511.6 862.5" fill="none" stroke="#231815" stroke-width="1.3" />
<line x1="458.5" y1="878" x2="496.7" y2="878" stroke="#231815" stroke-width="1.3" />
<line x1="496.2" y1="878.2" x2="511.8" y2="862.3" stroke="#231815" stroke-width="3.2" />
<line x1="484.5" y1="838.2" x2="490.9" y2="838.2" stroke="#231815" stroke-width="1.1" />
<line x1="483.8" y1="869.4" x2="490.2" y2="869.4" stroke="#231815" stroke-width="1.1" />
<line x1="487" y1="866.2" x2="487" y2="872.6" stroke="#231815" stroke-width="1.1" />
<text x="517" y="869.3" font-family="'Liberation Serif','Noto Serif CJK SC',serif" font-size="14.2" font-weight="500" textLength="56" lengthAdjust="spacingAndGlyphs" fill="#231815" >热电偶mV</text>
<rect x="623.4" y="832.2" width="20.5" height="19.2" fill="none" stroke="#231815" stroke-width="1.3"/>
<text x="630.05" y="847" font-family="'Liberation Serif','Noto Serif CJK SC',serif" font-size="16.3" font-weight="500" textLength="7.2" lengthAdjust="spacingAndGlyphs" fill="#231815" >A</text>
<rect x="623.4" y="862.5" width="20.5" height="18.8" fill="none" stroke="#231815" stroke-width="1.3"/>
<text x="630.05" y="877.1" font-family="'Liberation Serif','Noto Serif CJK SC',serif" font-size="16.3" font-weight="500" textLength="7.2" lengthAdjust="spacingAndGlyphs" fill="#231815" >B</text>
<rect x="623.4" y="892.2" width="20.5" height="18.9" fill="none" stroke="#231815" stroke-width="1.3"/>
<text x="630.05" y="906.85" font-family="'Liberation Serif','Noto Serif CJK SC',serif" font-size="16.3" font-weight="500" textLength="7.2" lengthAdjust="spacingAndGlyphs" fill="#231815" >C</text>
<path d="M643.9 841 L682.3 841 L682.3 846.8" fill="none" stroke="#231815" stroke-width="1.3" />
<rect x="678.6" y="846.8" width="7.6" height="18.8" fill="none" stroke="#231815" stroke-width="1.3"/>
<path d="M682.3 865.6 L682.3 901.5 L643.9 901.5" fill="none" stroke="#231815" stroke-width="1.3" />
<line x1="643.9" y1="872.2" x2="682.3" y2="872.2" stroke="#231815" stroke-width="1.3" />
<text x="695" y="876.6" font-family="'Noto Serif CJK SC','Liberation Serif',serif" font-size="14.3" font-weight="500" fill="#231815" >热电阻</text>
<rect x="39.5" y="962.8" width="20.5" height="19.2" fill="none" stroke="#231815" stroke-width="1.3"/>
<text x="45.95" y="977.6" font-family="'Liberation Serif','Noto Serif CJK SC',serif" font-size="16.3" font-weight="500" textLength="7.6" lengthAdjust="spacingAndGlyphs" fill="#231815" >R</text>
<rect x="39.5" y="993.2" width="20.5" height="19.5" fill="none" stroke="#231815" stroke-width="1.3"/>
<text x="45.95" y="1008.15" font-family="'Liberation Serif','Noto Serif CJK SC',serif" font-size="16.3" font-weight="500" textLength="7.6" lengthAdjust="spacingAndGlyphs" fill="#231815" >R</text>
<path d="M60 971.9 L82.3 971.9 L82.3 979.6" fill="none" stroke="#231815" stroke-width="1.3" />
<circle cx="82.3" cy="981" r="1.5" fill="none" stroke="#231815" stroke-width="1.1"/>
<line x1="82.8" y1="982.2" x2="88" y2="990.2" stroke="#231815" stroke-width="1.2" />
<circle cx="82.3" cy="993.9" r="1.5" fill="none" stroke="#231815" stroke-width="1.1"/>
<path d="M82.3 995.4 L82.3 1002.8 L60 1002.8" fill="none" stroke="#231815" stroke-width="1.3" />
<text x="97.2" y="993.8" font-family="'Noto Serif CJK SC','Liberation Serif',serif" font-size="14.5" font-weight="500" fill="#231815" >继电器输出</text>
<rect x="239.5" y="965.3" width="21" height="19.7" fill="none" stroke="#231815" stroke-width="1.3"/>
<text x="243" y="980.35" font-family="'Liberation Serif','Noto Serif CJK SC',serif" font-size="16.3" font-weight="500" textLength="14" lengthAdjust="spacingAndGlyphs" fill="#231815" >I+</text>
<rect x="239.5" y="995.7" width="21" height="19.7" fill="none" stroke="#231815" stroke-width="1.3"/>
<text x="243" y="1010.75" font-family="'Liberation Serif','Noto Serif CJK SC',serif" font-size="16.3" font-weight="500" textLength="14" lengthAdjust="spacingAndGlyphs" fill="#231815" >I−</text>
<line x1="260.5" y1="975" x2="285.3" y2="975" stroke="#231815" stroke-width="1.3" />
<circle cx="287" cy="975" r="1.6" fill="none" stroke="#231815" stroke-width="1.1"/>
<line x1="260.5" y1="1005.6" x2="285.3" y2="1005.6" stroke="#231815" stroke-width="1.3" />
<circle cx="287" cy="1005.6" r="1.6" fill="none" stroke="#231815" stroke-width="1.1"/>
<line x1="271.2" y1="967" x2="277.6" y2="967" stroke="#231815" stroke-width="1.1" />
<line x1="274.4" y1="963.8" x2="274.4" y2="970.2" stroke="#231815" stroke-width="1.1" />
<line x1="271.2" y1="999.2" x2="277.6" y2="999.2" stroke="#231815" stroke-width="1.1" />
<text x="290.4" y="994" font-family="'Noto Serif CJK SC','Liberation Serif',serif" font-size="14.5" font-weight="500" fill="#231815" >模拟量变送输出</text>
<rect x="552.5" y="946" width="20.2" height="19" fill="none" stroke="#231815" stroke-width="1.3"/>
<text x="559" y="960.7" font-family="'Liberation Serif','Noto Serif CJK SC',serif" font-size="16.3" font-weight="500" textLength="7.2" lengthAdjust="spacingAndGlyphs" fill="#231815" >A</text>
<rect x="552.5" y="975.6" width="20.2" height="19" fill="none" stroke="#231815" stroke-width="1.3"/>
<text x="559" y="990.3" font-family="'Liberation Serif','Noto Serif CJK SC',serif" font-size="16.3" font-weight="500" textLength="7.2" lengthAdjust="spacingAndGlyphs" fill="#231815" >B</text>
<rect x="552.5" y="1004.4" width="20.2" height="19.4" fill="none" stroke="#231815" stroke-width="1.3"/>
<text x="559" y="1019.3" font-family="'Liberation Serif','Noto Serif CJK SC',serif" font-size="16.3" font-weight="500" textLength="7.2" lengthAdjust="spacingAndGlyphs" fill="#231815" >C</text>
<rect x="469.7" y="1004.4" width="20.2" height="19.4" fill="none" stroke="#231815" stroke-width="1.3"/>
<text x="472.6" y="1019.3" font-family="'Liberation Serif','Noto Serif CJK SC',serif" font-size="16.3" font-weight="500" textLength="14.4" lengthAdjust="spacingAndGlyphs" fill="#231815" >P+</text>
<rect x="511.5" y="1004.4" width="19.8" height="19.4" fill="none" stroke="#231815" stroke-width="1.3"/>
<text x="514.2" y="1019.3" font-family="'Liberation Serif','Noto Serif CJK SC',serif" font-size="16.3" font-weight="500" textLength="14.4" lengthAdjust="spacingAndGlyphs" fill="#231815" >P−</text>
<path d="M521.4 1004.4 L521.4 955 L552.5 955" fill="none" stroke="#231815" stroke-width="1.3" />
<path d="M572.7 1014.3 L586.7 1014.3 L586.7 954.3 L624.7 954.3" fill="none" stroke="#231815" stroke-width="1.3" />
<rect x="624.7" y="945.2" width="97.6" height="49.4" fill="none" stroke="#231815" stroke-width="1.3"/>
<path d="M480 1023.8 L480 1037.5 L600 1037.5 L600 985 L624.7 985" fill="none" stroke="#231815" stroke-width="1.3" />
<line x1="610.1" y1="946" x2="616.5" y2="946" stroke="#231815" stroke-width="1.1" />
<line x1="610.1" y1="976.3" x2="616.5" y2="976.3" stroke="#231815" stroke-width="1.1" />
<line x1="613.3" y1="973.1" x2="613.3" y2="979.5" stroke="#231815" stroke-width="1.1" />
<text x="629.6" y="975.2" font-family="'Noto Serif CJK SC','Liberation Serif',serif" font-size="14.6" font-weight="500" fill="#231815" >两线制变送器</text>
<text x="244.2" y="1115.4" font-family="'Noto Sans CJK SC','Liberation Sans',sans-serif" font-size="28.6" textLength="257.6" lengthAdjust="spacingAndGlyphs" fill="#000" stroke="#000" stroke-width="0.12">外形尺寸及开孔尺寸</text>
<line x1="229.5" y1="1123.4" x2="516" y2="1123.4" stroke="#444" stroke-width="1" />
<line x1="239.4" y1="1125.6" x2="526.4" y2="1125.6" stroke="#444" stroke-width="1" />
<line x1="251" y1="1129.9" x2="537.6" y2="1129.9" stroke="#444" stroke-width="1" />
<rect x="60.3" y="1185.4" width="224.9" height="178.7" rx="4.6" fill="none" stroke="#1c1c1c" stroke-width="2.2"/>
<rect x="63.7" y="1188.3" width="218.9" height="134.5" rx="4" fill="none" stroke="#1c1c1c" stroke-width="1"/>
<rect x="78.6" y="1195.8" width="189.4" height="116" rx="3" fill="none" stroke="#1c1c1c" stroke-width="1.4"/>
<rect x="80.6" y="1197.9" width="185.4" height="111.8" rx="2" fill="none" stroke="#666" stroke-width="0.9"/>
<line x1="61.5" y1="1324.5" x2="284.5" y2="1324.5" stroke="#1c1c1c" stroke-width="0.9" />
<line x1="102" y1="1324.5" x2="102" y2="1335.8" stroke="#1c1c1c" stroke-width="1" />
<line x1="241.5" y1="1324.5" x2="241.5" y2="1335.8" stroke="#1c1c1c" stroke-width="1" />
<line x1="61.5" y1="1335.8" x2="102" y2="1335.8" stroke="#555" stroke-width="1.2" />
<line x1="241.5" y1="1335.8" x2="284.5" y2="1335.8" stroke="#555" stroke-width="1.2" />
<path d="M61 1342 Q61 1337.4 65.5 1337.4 H280.5 Q285 1337.4 285 1342" fill="none" stroke="#1c1c1c" stroke-width="1.2" />
<text x="250.1" y="1357.8" font-family="'Liberation Sans','Noto Sans CJK SC',sans-serif" font-size="9.6" font-weight="700" textLength="20.8" lengthAdjust="spacingAndGlyphs" fill="#111" stroke="#111" stroke-width="0.7">OHR</text>
<text x="140.4" y="1258" font-family="'Noto Serif CJK SC','Liberation Serif',serif" font-size="15.4" font-weight="700" letter-spacing="2.75" fill="#1a1414" >显示区域</text>
<line x1="59.4" y1="1172.8" x2="285.8" y2="1172.8" stroke="#1c1c1c" stroke-width="1.1" />
<path d="M59.4 1172.8 L66.6 1169 L66.6 1176.6 Z" fill="#1c1c1c" stroke="none" />
<path d="M285.8 1172.8 L278.6 1169 L278.6 1176.6 Z" fill="#1c1c1c" stroke="none" />
<line x1="59.4" y1="1166" x2="59.4" y2="1181" stroke="#1c1c1c" stroke-width="1.1" />
<line x1="285.8" y1="1166" x2="285.8" y2="1181" stroke="#1c1c1c" stroke-width="1.1" />
<g transform="translate(157.9 1167.6)">
<text x="0" y="0" font-family="'Liberation Sans','Noto Sans CJK SC',sans-serif" font-size="14" textLength="21.3" lengthAdjust="spacingAndGlyphs" fill="#111" stroke="#111" stroke-width="0.3">185</text>
<text x="21.7" y="0" font-family="'Liberation Sans','Noto Sans CJK SC',sans-serif" font-size="12.5" textLength="15.3" lengthAdjust="spacingAndGlyphs" fill="#111" stroke="#111" stroke-width="0.3">mm</text>
</g>
<line x1="49.7" y1="1196" x2="49.7" y2="1311.6" stroke="#1c1c1c" stroke-width="1.1" />
<path d="M49.7 1196 L45.9 1203.2 L53.5 1203.2 Z" fill="#1c1c1c" stroke="none" />
<path d="M49.7 1311.6 L45.9 1304.4 L53.5 1304.4 Z" fill="#1c1c1c" stroke="none" />
<line x1="44.4" y1="1196" x2="55.8" y2="1196" stroke="#1c1c1c" stroke-width="1.1" />
<line x1="44.4" y1="1311.6" x2="55.8" y2="1311.6" stroke="#1c1c1c" stroke-width="1.1" />
<g transform="translate(37.4 1243.7) rotate(90)">
<text x="0" y="0" font-family="'Liberation Sans','Noto Sans CJK SC',sans-serif" font-size="14" textLength="14.2" lengthAdjust="spacingAndGlyphs" fill="#111" stroke="#111" stroke-width="0.3">85</text>
<text x="14.6" y="0" font-family="'Liberation Sans','Noto Sans CJK SC',sans-serif" font-size="12.5" textLength="15.3" lengthAdjust="spacingAndGlyphs" fill="#111" stroke="#111" stroke-width="0.3">mm</text>
</g>
<line x1="297.1" y1="1185.2" x2="297.1" y2="1364.1" stroke="#1c1c1c" stroke-width="1.1" />
<path d="M297.1 1185.2 L293.3 1192.4 L300.9 1192.4 Z" fill="#1c1c1c" stroke="none" />
<path d="M297.1 1364.1 L293.3 1356.9 L300.9 1356.9 Z" fill="#1c1c1c" stroke="none" />
<line x1="289" y1="1185.2" x2="304.8" y2="1185.2" stroke="#1c1c1c" stroke-width="1.1" />
<line x1="289" y1="1364.1" x2="304.8" y2="1364.1" stroke="#1c1c1c" stroke-width="1.1" />
<g transform="translate(302.6 1266.3) rotate(90)">
<text x="0" y="0" font-family="'Liberation Sans','Noto Sans CJK SC',sans-serif" font-size="14" textLength="21.3" lengthAdjust="spacingAndGlyphs" fill="#111" stroke="#111" stroke-width="0.3">154</text>
<text x="21.7" y="0" font-family="'Liberation Sans','Noto Sans CJK SC',sans-serif" font-size="12.5" textLength="15.3" lengthAdjust="spacingAndGlyphs" fill="#111" stroke="#111" stroke-width="0.3">mm</text>
</g>
<line x1="79.2" y1="1374" x2="267.9" y2="1374" stroke="#1c1c1c" stroke-width="1.1" />
<path d="M79.2 1374 L86.4 1370.2 L86.4 1377.8 Z" fill="#1c1c1c" stroke="none" />
<path d="M267.9 1374 L260.7 1370.2 L260.7 1377.8 Z" fill="#1c1c1c" stroke="none" />
<line x1="79.2" y1="1366.8" x2="79.2" y2="1381.3" stroke="#1c1c1c" stroke-width="1.1" />
<line x1="267.9" y1="1366.8" x2="267.9" y2="1381.3" stroke="#1c1c1c" stroke-width="1.1" />
<g transform="translate(157.9 1391.8)">
<text x="0" y="0" font-family="'Liberation Sans','Noto Sans CJK SC',sans-serif" font-size="14" textLength="21.3" lengthAdjust="spacingAndGlyphs" fill="#111" stroke="#111" stroke-width="0.3">154</text>
<text x="21.7" y="0" font-family="'Liberation Sans','Noto Sans CJK SC',sans-serif" font-size="12.5" textLength="15.3" lengthAdjust="spacingAndGlyphs" fill="#111" stroke="#111" stroke-width="0.3">mm</text>
</g>
<rect x="329.6" y="1183.2" width="21.5" height="184" fill="none" stroke="#1c1c1c" stroke-width="2.1"/>
<line x1="353.4" y1="1194.6" x2="353.4" y2="1355.5" stroke="#b5b5b5" stroke-width="1.2" />
<path d="M352 1193.6 H533 V1356.4 H352" fill="none" stroke="#1c1c1c" stroke-width="2.1" />
<line x1="525.3" y1="1193.6" x2="525.3" y2="1356.4" stroke="#1c1c1c" stroke-width="2.1" />
<rect x="367.6" y="1240.8" width="65.8" height="3.2" fill="none" stroke="#1c1c1c" stroke-width="1.3"/>
<rect x="367.6" y="1262.1" width="65.8" height="3.2" fill="none" stroke="#1c1c1c" stroke-width="1.3"/>
<rect x="367.6" y="1283.4" width="65.8" height="3.2" fill="none" stroke="#1c1c1c" stroke-width="1.3"/>
<rect x="367.6" y="1304.7" width="65.8" height="3.2" fill="none" stroke="#1c1c1c" stroke-width="1.3"/>
<rect x="446.1" y="1219.7" width="65.5" height="3.2" fill="none" stroke="#1c1c1c" stroke-width="1.3"/>
<rect x="446.1" y="1240.8" width="65.5" height="3.2" fill="none" stroke="#1c1c1c" stroke-width="1.3"/>
<rect x="446.1" y="1262.1" width="65.5" height="3.2" fill="none" stroke="#1c1c1c" stroke-width="1.3"/>
<rect x="446.1" y="1283.4" width="65.5" height="3.2" fill="none" stroke="#1c1c1c" stroke-width="1.3"/>
<rect x="446.1" y="1304.7" width="65.5" height="3.2" fill="none" stroke="#1c1c1c" stroke-width="1.3"/>
<rect x="446.1" y="1325.9" width="65.5" height="3.2" fill="none" stroke="#1c1c1c" stroke-width="1.3"/>
<rect x="382.2" y="1217.4" width="12.6" height="18" fill="none" stroke="#1c1c1c" stroke-width="1.8"/>
<rect x="405.6" y="1217.4" width="12.9" height="18" fill="none" stroke="#1c1c1c" stroke-width="1.8"/>
<rect x="382.2" y="1313.6" width="12.6" height="17.7" fill="none" stroke="#1c1c1c" stroke-width="1.8"/>
<rect x="405.6" y="1313.6" width="12.9" height="17.7" fill="none" stroke="#1c1c1c" stroke-width="1.8"/>
<path d="M533 1235.1 H539.3 L543 1240.3 V1247.1 H533" fill="none" stroke="#1c1c1c" stroke-width="2" />
<path d="M533 1257.9 H539.3 L543 1263.1 V1269.9 H533" fill="none" stroke="#1c1c1c" stroke-width="2" />
<path d="M533 1280.2 H539.3 L543 1285.4 V1292.2 H533" fill="none" stroke="#1c1c1c" stroke-width="2" />
<path d="M533 1302.5 H539.3 L543 1307.7 V1314.5 H533" fill="none" stroke="#1c1c1c" stroke-width="2" />
<path d="M533 1324.7 H539.3 L543 1329.9 V1336.7 H533" fill="none" stroke="#1c1c1c" stroke-width="2" />
<line x1="351.1" y1="1172.8" x2="544.4" y2="1172.8" stroke="#1c1c1c" stroke-width="1.1" />
<path d="M351.1 1172.8 L358.3 1169 L358.3 1176.6 Z" fill="#1c1c1c" stroke="none" />
<path d="M544.4 1172.8 L537.2 1169 L537.2 1176.6 Z" fill="#1c1c1c" stroke="none" />
<line x1="316.5" y1="1172.8" x2="329.6" y2="1172.8" stroke="#1c1c1c" stroke-width="1.1" />
<path d="M329.6 1172.8 L322.4 1169 L322.4 1176.6 Z" fill="#1c1c1c" stroke="none" />
<line x1="329.6" y1="1172.8" x2="351.1" y2="1172.8" stroke="#1c1c1c" stroke-width="1.1" />
<line x1="329.6" y1="1167" x2="329.6" y2="1178.5" stroke="#1c1c1c" stroke-width="1.1" />
<line x1="351.1" y1="1167" x2="351.1" y2="1178.5" stroke="#1c1c1c" stroke-width="1.1" />
<line x1="544.4" y1="1167" x2="544.4" y2="1337" stroke="#1c1c1c" stroke-width="1.1" />
<g transform="translate(326.3 1165.6)">
<text x="0" y="0" font-family="'Liberation Sans','Noto Sans CJK SC',sans-serif" font-size="14" textLength="14.2" lengthAdjust="spacingAndGlyphs" fill="#111" stroke="#111" stroke-width="0.3">20</text>
<text x="14.6" y="0" font-family="'Liberation Sans','Noto Sans CJK SC',sans-serif" font-size="12.5" textLength="15.3" lengthAdjust="spacingAndGlyphs" fill="#111" stroke="#111" stroke-width="0.3">mm</text>
</g>
<g transform="translate(427.5 1166.6)">
<text x="0" y="0" font-family="'Liberation Sans','Noto Sans CJK SC',sans-serif" font-size="15" textLength="22.8" lengthAdjust="spacingAndGlyphs" fill="#111" stroke="#111" stroke-width="0.3">156</text>
<text x="23.2" y="0" font-family="'Liberation Sans','Noto Sans CJK SC',sans-serif" font-size="13.5" textLength="16.4" lengthAdjust="spacingAndGlyphs" fill="#111" stroke="#111" stroke-width="0.3">mm</text>
</g>
<rect x="562" y="1193.6" width="161.5" height="160.9" fill="#dcdcdc" stroke="#1c1c1c" stroke-width="2.1"/>
<line x1="561.5" y1="1184.2" x2="723.5" y2="1184.2" stroke="#1c1c1c" stroke-width="1.1" />
<path d="M561.5 1184.2 L568.7 1180.4 L568.7 1188 Z" fill="#1c1c1c" stroke="none" />
<path d="M723.5 1184.2 L716.3 1180.4 L716.3 1188 Z" fill="#1c1c1c" stroke="none" />
<line x1="561.5" y1="1176.6" x2="561.5" y2="1192.5" stroke="#1c1c1c" stroke-width="1.1" />
<line x1="723.5" y1="1176.6" x2="723.5" y2="1192.5" stroke="#1c1c1c" stroke-width="1.1" />
<text x="617.3" y="1176.7" font-family="'Liberation Sans','Noto Sans CJK SC',sans-serif" font-size="16.6" textLength="22.4" lengthAdjust="spacingAndGlyphs" fill="#111" stroke="#111" stroke-width="0.4">138</text>
<text x="640.2" y="1167.5" font-family="'Liberation Sans','Noto Sans CJK SC',sans-serif" font-size="9.6" textLength="20.6" lengthAdjust="spacingAndGlyphs" fill="#111" stroke="#111" stroke-width="0.35">+0. 5</text>
<text x="645.4" y="1179.5" font-family="'Liberation Sans','Noto Sans CJK SC',sans-serif" font-size="10.4" textLength="4.6" lengthAdjust="spacingAndGlyphs" fill="#111" stroke="#111" stroke-width="0.3">0</text>
<text x="657.7" y="1176.7" font-family="'Liberation Sans','Noto Sans CJK SC',sans-serif" font-size="14.4" textLength="15.7" lengthAdjust="spacingAndGlyphs" fill="#111" stroke="#111" stroke-width="0.35">mm</text>
<line x1="732.4" y1="1193.4" x2="732.4" y2="1354.5" stroke="#1c1c1c" stroke-width="1.1" />
<path d="M732.4 1193.4 L728.6 1200.6 L736.2 1200.6 Z" fill="#1c1c1c" stroke="none" />
<path d="M732.4 1354.5 L728.6 1347.3 L736.2 1347.3 Z" fill="#1c1c1c" stroke="none" />
<line x1="725" y1="1193.4" x2="739.4" y2="1193.4" stroke="#1c1c1c" stroke-width="1.1" />
<line x1="725" y1="1354.5" x2="739.4" y2="1354.5" stroke="#1c1c1c" stroke-width="1.1" />
<g transform="translate(739.8 1254.2) rotate(90)">
<text x="0" y="0" font-family="'Liberation Sans','Noto Sans CJK SC',sans-serif" font-size="15.4" textLength="23" lengthAdjust="spacingAndGlyphs" fill="#111" stroke="#111" stroke-width="0.4">138</text>
<text x="20.8" y="-9.2" font-family="'Liberation Sans','Noto Sans CJK SC',sans-serif" font-size="10.6" textLength="21" lengthAdjust="spacingAndGlyphs" fill="#111" stroke="#111" stroke-width="0.3">+0. 5</text>
<text x="26.2" y="3.8" font-family="'Liberation Sans','Noto Sans CJK SC',sans-serif" font-size="10.6" textLength="4.8" lengthAdjust="spacingAndGlyphs" fill="#111" stroke="#111" stroke-width="0.3">0</text>
<text x="39.8" y="0" font-family="'Liberation Sans','Noto Sans CJK SC',sans-serif" font-size="14.4" textLength="16" lengthAdjust="spacingAndGlyphs" fill="#111" stroke="#111" stroke-width="0.35">mm</text>
</g>
<text x="607.4" y="1275.6" font-family="'Noto Serif CJK SC','Liberation Serif',serif" font-size="15.4" font-weight="700" letter-spacing="1.45" fill="#1a1414" >开孔尺寸</text>
<text x="38 61.48 74.72 92.8 113.68 134.56 155.44 176.32 197.2" y="1436.6" font-family="'Noto Serif CJK SC','Liberation Serif',serif" font-size="21" fill="#1a1a1a">（1）、安装方法：</text>
<text x="259.4" y="1436.6" font-family="'Liberation Serif','Noto Serif CJK SC',serif" font-size="23" textLength="8.6" lengthAdjust="spacingAndGlyphs" fill="#1a1a1a">A</text>
<text x="269.44 290.32 311.2 332.08 352.96 373.84 394.72 415.6 436.48 457.36 478.24" y="1436.6" font-family="'Noto Serif CJK SC','Liberation Serif',serif" font-size="21" fill="#1a1a1a">、从仪表盘前面放入仪表</text>
<text x="259.4" y="1465.4" font-family="'Liberation Serif','Noto Serif CJK SC',serif" font-size="23" textLength="8.6" lengthAdjust="spacingAndGlyphs" fill="#1a1a1a">B</text>
<text x="269.44 290.32 311.2 332.08 352.96 373.84 394.72 415.6 436.48 457.36 478.24 499.12 520 540.88 561.76 582.64 603.52 624.4" y="1465.4" font-family="'Noto Serif CJK SC','Liberation Serif',serif" font-size="21" fill="#1a1a1a">、用仪表所带的安装支架如右图所示安装</text>
<text x="113.3 134.18 155.06 175.94 196.82 217.7 238.58 259.46 280.34 301.22 322.1 342.98 363.86 384.74 405.62" y="1494" font-family="'Noto Serif CJK SC','Liberation Serif',serif" font-size="21" fill="#1a1a1a">▲在仪表两侧用四个安装支架固定</text>
<text x="38 61.48 74.72 92.8 113.68 134.56 155.44 176.32" y="1523.5" font-family="'Noto Serif CJK SC','Liberation Serif',serif" font-size="21" fill="#1a1a1a">（2）、见安装图</text>
<text x="305" y="1537.2" font-family="'Noto Serif CJK SC','Liberation Serif',serif" font-size="14.8" font-weight="500" textLength="44.9" lengthAdjust="spacingAndGlyphs" fill="#231815" >仪表盘</text>
<text x="361.3" y="1537.2" font-family="'Noto Serif CJK SC','Liberation Serif',serif" font-size="14.8" font-weight="500" textLength="60.2" lengthAdjust="spacingAndGlyphs" fill="#231815" >安装支架</text>
<text x="495" y="1536.2" font-family="'Noto Serif CJK SC','Liberation Serif',serif" font-size="14.8" font-weight="500" textLength="60.6" lengthAdjust="spacingAndGlyphs" fill="#231815" >安装螺丝</text>
<text x="602.7" y="1752.2" font-family="'Noto Serif CJK SC','Liberation Serif',serif" font-size="14.8" font-weight="500" textLength="44.4" lengthAdjust="spacingAndGlyphs" fill="#231815" >螺丝刀</text>
<text x="597" y="1770.3" font-family="'Noto Serif CJK SC','Liberation Serif',serif" font-size="14.8" font-weight="500" textLength="56" lengthAdjust="spacingAndGlyphs" fill="#231815" >（十字）</text>
<text x="279" y="1661.8" font-family="'Noto Serif CJK SC','Liberation Serif',serif" font-size="14.6" font-weight="500" text-anchor="middle" fill="#231815" >前</text>
<text x="279" y="1679.8" font-family="'Noto Serif CJK SC','Liberation Serif',serif" font-size="14.6" font-weight="500" text-anchor="middle" fill="#231815" >面</text>
<text x="279" y="1698.9" font-family="'Noto Serif CJK SC','Liberation Serif',serif" font-size="14.6" font-weight="500" text-anchor="middle" fill="#231815" >板</text>
<clipPath id="hc"><rect x="321.5" y="1542.8" width="13.9" height="291.6"/></clipPath>
<g clip-path="url(#hc)">
<line x1="321.5" y1="1534.25" x2="335.4" y2="1541.15" stroke="#231815" stroke-width="1.2" />
<line x1="321.5" y1="1543.4" x2="335.4" y2="1550.3" stroke="#231815" stroke-width="1.2" />
<line x1="321.5" y1="1552.55" x2="335.4" y2="1559.45" stroke="#231815" stroke-width="1.2" />
<line x1="321.5" y1="1561.7" x2="335.4" y2="1568.6" stroke="#231815" stroke-width="1.2" />
<line x1="321.5" y1="1570.85" x2="335.4" y2="1577.75" stroke="#231815" stroke-width="1.2" />
<line x1="321.5" y1="1580" x2="335.4" y2="1586.9" stroke="#231815" stroke-width="1.2" />
<line x1="321.5" y1="1589.15" x2="335.4" y2="1596.05" stroke="#231815" stroke-width="1.2" />
<line x1="321.5" y1="1598.3" x2="335.4" y2="1605.2" stroke="#231815" stroke-width="1.2" />
<line x1="321.5" y1="1607.45" x2="335.4" y2="1614.35" stroke="#231815" stroke-width="1.2" />
<line x1="321.5" y1="1616.6" x2="335.4" y2="1623.5" stroke="#231815" stroke-width="1.2" />
<line x1="321.5" y1="1625.75" x2="335.4" y2="1632.65" stroke="#231815" stroke-width="1.2" />
<line x1="321.5" y1="1634.9" x2="335.4" y2="1641.8" stroke="#231815" stroke-width="1.2" />
<line x1="321.5" y1="1644.05" x2="335.4" y2="1650.95" stroke="#231815" stroke-width="1.2" />
<line x1="321.5" y1="1653.2" x2="335.4" y2="1660.1" stroke="#231815" stroke-width="1.2" />
<line x1="321.5" y1="1662.35" x2="335.4" y2="1669.25" stroke="#231815" stroke-width="1.2" />
<line x1="321.5" y1="1671.5" x2="335.4" y2="1678.4" stroke="#231815" stroke-width="1.2" />
<line x1="321.5" y1="1680.65" x2="335.4" y2="1687.55" stroke="#231815" stroke-width="1.2" />
<line x1="321.5" y1="1689.8" x2="335.4" y2="1696.7" stroke="#231815" stroke-width="1.2" />
<line x1="321.5" y1="1698.95" x2="335.4" y2="1705.85" stroke="#231815" stroke-width="1.2" />
<line x1="321.5" y1="1708.1" x2="335.4" y2="1715" stroke="#231815" stroke-width="1.2" />
<line x1="321.5" y1="1717.25" x2="335.4" y2="1724.15" stroke="#231815" stroke-width="1.2" />
<line x1="321.5" y1="1726.4" x2="335.4" y2="1733.3" stroke="#231815" stroke-width="1.2" />
<line x1="321.5" y1="1735.55" x2="335.4" y2="1742.45" stroke="#231815" stroke-width="1.2" />
<line x1="321.5" y1="1744.7" x2="335.4" y2="1751.6" stroke="#231815" stroke-width="1.2" />
<line x1="321.5" y1="1753.85" x2="335.4" y2="1760.75" stroke="#231815" stroke-width="1.2" />
<line x1="321.5" y1="1763" x2="335.4" y2="1769.9" stroke="#231815" stroke-width="1.2" />
<line x1="321.5" y1="1772.15" x2="335.4" y2="1779.05" stroke="#231815" stroke-width="1.2" />
<line x1="321.5" y1="1781.3" x2="335.4" y2="1788.2" stroke="#231815" stroke-width="1.2" />
<line x1="321.5" y1="1790.45" x2="335.4" y2="1797.35" stroke="#231815" stroke-width="1.2" />
<line x1="321.5" y1="1799.6" x2="335.4" y2="1806.5" stroke="#231815" stroke-width="1.2" />
<line x1="321.5" y1="1808.75" x2="335.4" y2="1815.65" stroke="#231815" stroke-width="1.2" />
<line x1="321.5" y1="1817.9" x2="335.4" y2="1824.8" stroke="#231815" stroke-width="1.2" />
<line x1="321.5" y1="1827.05" x2="335.4" y2="1833.95" stroke="#231815" stroke-width="1.2" />
<line x1="321.5" y1="1836.2" x2="335.4" y2="1843.1" stroke="#231815" stroke-width="1.2" />
</g>
<rect x="321.5" y="1542.8" width="13.9" height="291.6" fill="none" stroke="#231815" stroke-width="1.2"/>
<rect x="295.6" y="1558.5" width="21.8" height="250.6" fill="none" stroke="#231815" stroke-width="2.3"/>
<line x1="319.4" y1="1559" x2="319.4" y2="1808.5" stroke="#8a8a8a" stroke-width="1.5" />
<path d="M335.4 1572 H564.4 V1793.6 H335.4" fill="none" stroke="#231815" stroke-width="2.4" />
<line x1="320" y1="1572" x2="335.4" y2="1572" stroke="#231815" stroke-width="2.4" />
<line x1="320" y1="1793.6" x2="335.4" y2="1793.6" stroke="#231815" stroke-width="2.4" />
<line x1="554.3" y1="1572" x2="554.3" y2="1793.6" stroke="#231815" stroke-width="2.4" />
<path d="M564.4 1629.1 H573.8 L578.6 1635.3 V1646.1 H564.4" fill="none" stroke="#231815" stroke-width="2.4" />
<path d="M564.4 1660.1 H573.8 L578.6 1666.3 V1677.1 H564.4" fill="none" stroke="#231815" stroke-width="2.4" />
<path d="M564.4 1690.6 H573.8 L578.6 1696.8 V1707.6 H564.4" fill="none" stroke="#231815" stroke-width="2.4" />
<path d="M564.4 1720.7 H573.8 L578.6 1726.9 V1737.7 H564.4" fill="none" stroke="#231815" stroke-width="2.4" />
<path d="M564.4 1750.4 H573.8 L578.6 1756.6 V1767.4 H564.4" fill="none" stroke="#231815" stroke-width="2.4" />
<line x1="386" y1="1540.3" x2="386" y2="1596.5" stroke="#231815" stroke-width="1.1" />
<line x1="522.7" y1="1545.6" x2="433.2" y2="1617.7" stroke="#231815" stroke-width="1.1" />
<line x1="513.2" y1="1746" x2="601.5" y2="1746" stroke="#231815" stroke-width="1.1" />
<path d="M349.2 1598.4 H424.4 V1611.6 H414.4 V1626.9 H424.4 V1639.4 H349.2 Z" fill="none" stroke="#555" stroke-width="0.9" />
<line x1="349.2" y1="1615.5" x2="414.4" y2="1615.5" stroke="#999" stroke-width="0.7" />
<line x1="349.2" y1="1623.8" x2="414.4" y2="1623.8" stroke="#999" stroke-width="0.7" />
<rect x="353.5" y="1602.3" width="8" height="8.6" rx="0.2" fill="none" stroke="#555" stroke-width="0.9"/>
<rect x="365.4" y="1602.3" width="7.9" height="4.1" rx="0.2" fill="none" stroke="#555" stroke-width="0.9"/>
<rect x="377.2" y="1602.3" width="7.2" height="6.1" rx="0.2" fill="none" stroke="#555" stroke-width="0.9"/>
<rect x="389.3" y="1602.3" width="6.6" height="8.9" rx="0.2" fill="none" stroke="#555" stroke-width="0.9"/>
<rect x="400.7" y="1602.3" width="6.7" height="8.9" rx="0.2" fill="none" stroke="#555" stroke-width="0.9"/>
<rect x="412.3" y="1602.3" width="6.5" height="6.1" rx="0.2" fill="none" stroke="#555" stroke-width="0.9"/>
<rect x="353.5" y="1627.3" width="8" height="8.9" rx="0.2" fill="none" stroke="#555" stroke-width="0.9"/>
<rect x="365.4" y="1632.5" width="7.9" height="3.7" rx="0.2" fill="none" stroke="#555" stroke-width="0.9"/>
<rect x="377.2" y="1630.1" width="7.2" height="6.1" rx="0.2" fill="none" stroke="#555" stroke-width="0.9"/>
<rect x="389.3" y="1628.3" width="6.6" height="7.9" rx="0.2" fill="none" stroke="#555" stroke-width="0.9"/>
<rect x="400.7" y="1628.3" width="6.7" height="7.9" rx="0.2" fill="none" stroke="#555" stroke-width="0.9"/>
<rect x="412.3" y="1630.1" width="6.5" height="6.1" rx="0.2" fill="none" stroke="#555" stroke-width="0.9"/>
<rect x="365.4" y="1611.6" width="7.9" height="15.7" fill="#fff" stroke="#555" stroke-width="0.9"/>
<ellipse cx="342.51" cy="1619.8" rx="1.01" ry="2.2" fill="none" stroke="#444" stroke-width="0.8"/>
<ellipse cx="344.54" cy="1619.8" rx="1.01" ry="2.2" fill="none" stroke="#444" stroke-width="0.8"/>
<ellipse cx="346.56" cy="1619.8" rx="1.01" ry="2.2" fill="none" stroke="#444" stroke-width="0.8"/>
<ellipse cx="348.59" cy="1619.8" rx="1.01" ry="2.2" fill="none" stroke="#444" stroke-width="0.8"/>
<ellipse cx="366.98" cy="1619.8" rx="1.18" ry="2.2" fill="none" stroke="#444" stroke-width="0.8"/>
<ellipse cx="369.35" cy="1619.8" rx="1.18" ry="2.2" fill="none" stroke="#444" stroke-width="0.8"/>
<ellipse cx="371.72" cy="1619.8" rx="1.18" ry="2.2" fill="none" stroke="#444" stroke-width="0.8"/>
<ellipse cx="416.64" cy="1619.8" rx="1.14" ry="2.2" fill="none" stroke="#444" stroke-width="0.8"/>
<ellipse cx="418.92" cy="1619.8" rx="1.14" ry="2.2" fill="none" stroke="#444" stroke-width="0.8"/>
<ellipse cx="421.2" cy="1619.8" rx="1.14" ry="2.2" fill="none" stroke="#444" stroke-width="0.8"/>
<ellipse cx="423.48" cy="1619.8" rx="1.14" ry="2.2" fill="none" stroke="#444" stroke-width="0.8"/>
<ellipse cx="425.76" cy="1619.8" rx="1.14" ry="2.2" fill="none" stroke="#444" stroke-width="0.8"/>
<path d="M426.9 1614.9 Q432.2 1615.5 432.2 1619.5 Q432.2 1623.5 426.9 1624.1 Z" fill="#fff" stroke="#333" stroke-width="0.9" />
<path d="M349.2 1725.6 H424.4 V1738.8 H414.4 V1754.1 H424.4 V1766.6 H349.2 Z" fill="none" stroke="#555" stroke-width="0.9" />
<line x1="349.2" y1="1742.7" x2="414.4" y2="1742.7" stroke="#999" stroke-width="0.7" />
<line x1="349.2" y1="1751" x2="414.4" y2="1751" stroke="#999" stroke-width="0.7" />
<rect x="353.5" y="1729.5" width="8" height="8.6" rx="0.2" fill="none" stroke="#555" stroke-width="0.9"/>
<rect x="365.4" y="1729.5" width="7.9" height="4.1" rx="0.2" fill="none" stroke="#555" stroke-width="0.9"/>
<rect x="377.2" y="1729.5" width="7.2" height="6.1" rx="0.2" fill="none" stroke="#555" stroke-width="0.9"/>
<rect x="389.3" y="1729.5" width="6.6" height="8.9" rx="0.2" fill="none" stroke="#555" stroke-width="0.9"/>
<rect x="400.7" y="1729.5" width="6.7" height="8.9" rx="0.2" fill="none" stroke="#555" stroke-width="0.9"/>
<rect x="412.3" y="1729.5" width="6.5" height="6.1" rx="0.2" fill="none" stroke="#555" stroke-width="0.9"/>
<rect x="353.5" y="1754.5" width="8" height="8.9" rx="0.2" fill="none" stroke="#555" stroke-width="0.9"/>
<rect x="365.4" y="1759.7" width="7.9" height="3.7" rx="0.2" fill="none" stroke="#555" stroke-width="0.9"/>
<rect x="377.2" y="1757.3" width="7.2" height="6.1" rx="0.2" fill="none" stroke="#555" stroke-width="0.9"/>
<rect x="389.3" y="1755.5" width="6.6" height="7.9" rx="0.2" fill="none" stroke="#555" stroke-width="0.9"/>
<rect x="400.7" y="1755.5" width="6.7" height="7.9" rx="0.2" fill="none" stroke="#555" stroke-width="0.9"/>
<rect x="412.3" y="1757.3" width="6.5" height="6.1" rx="0.2" fill="none" stroke="#555" stroke-width="0.9"/>
<rect x="365.4" y="1738.8" width="7.9" height="15.7" fill="#fff" stroke="#555" stroke-width="0.9"/>
<ellipse cx="342.51" cy="1747" rx="1.01" ry="2.2" fill="none" stroke="#444" stroke-width="0.8"/>
<ellipse cx="344.54" cy="1747" rx="1.01" ry="2.2" fill="none" stroke="#444" stroke-width="0.8"/>
<ellipse cx="346.56" cy="1747" rx="1.01" ry="2.2" fill="none" stroke="#444" stroke-width="0.8"/>
<ellipse cx="348.59" cy="1747" rx="1.01" ry="2.2" fill="none" stroke="#444" stroke-width="0.8"/>
<ellipse cx="366.98" cy="1747" rx="1.18" ry="2.2" fill="none" stroke="#444" stroke-width="0.8"/>
<ellipse cx="369.35" cy="1747" rx="1.18" ry="2.2" fill="none" stroke="#444" stroke-width="0.8"/>
<ellipse cx="371.72" cy="1747" rx="1.18" ry="2.2" fill="none" stroke="#444" stroke-width="0.8"/>
<ellipse cx="416.64" cy="1747" rx="1.14" ry="2.2" fill="none" stroke="#444" stroke-width="0.8"/>
<ellipse cx="418.92" cy="1747" rx="1.14" ry="2.2" fill="none" stroke="#444" stroke-width="0.8"/>
<ellipse cx="421.2" cy="1747" rx="1.14" ry="2.2" fill="none" stroke="#444" stroke-width="0.8"/>
<ellipse cx="423.48" cy="1747" rx="1.14" ry="2.2" fill="none" stroke="#444" stroke-width="0.8"/>
<ellipse cx="425.76" cy="1747" rx="1.14" ry="2.2" fill="none" stroke="#444" stroke-width="0.8"/>
<path d="M426.9 1742.1 Q432.2 1742.7 432.2 1746.7 Q432.2 1750.7 426.9 1751.3 Z" fill="#fff" stroke="#333" stroke-width="0.9" />
<rect x="442.4" y="1744.1" width="38.6" height="3.4" rx="1.7" fill="#fff" stroke="#444" stroke-width="0.9"/>
<rect x="478.6" y="1740.9" width="32.6" height="9.9" rx="4.9" fill="#c9c9c9" stroke="#333" stroke-width="1.2"/>
</svg>
</body></html>
